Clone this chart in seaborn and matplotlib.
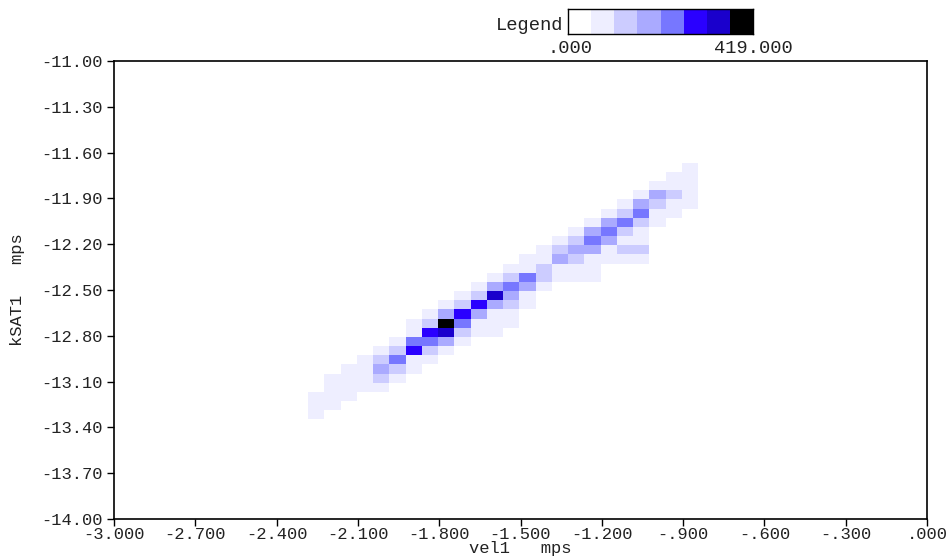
import numpy as np
import pandas as pd
import seaborn as sns
import matplotlib.pyplot as plt
from matplotlib.colors import ListedColormap

# Set aesthetics
sns.set_theme(style="ticks")
plt.rcParams['font.family'] = ['Liberation Mono', 'DejaVu Sans Mono']

# histogram grid: 0.06 x 0.06 cells
x_start = -2.284
y_start = -13.347
bin_size = 0.06
n_cols = 24
n_rows = 28

# per column (left to right): first non-empty row, then counts going up
col_first_row = [0, 1, 2, 3, 3, 4, 5, 6, 7, 8, 9, 9,
                 10, 12, 14, 15, 15, 15, 17, 17, 17, 21, 22, 23]
col_counts = [
    [25, 25, 25],
    [25, 25, 25, 25],
    [25, 25, 25, 25],
    [25, 25, 25, 25],
    [25, 90, 150, 90, 25],
    [25, 90, 210, 90, 25],
    [25, 25, 270, 210, 25, 25],
    [25, 90, 210, 270, 90, 25],
    [25, 150, 330, 419, 150, 25],
    [25, 90, 210, 270, 90, 25],
    [25, 25, 150, 270, 90, 25],
    [25, 25, 25, 150, 330, 150, 25],
    [25, 25, 90, 150, 210, 90, 25],
    [25, 25, 150, 210, 25, 25],
    [25, 90, 90, 25, 25],
    [25, 25, 150, 90, 25],
    [25, 25, 90, 150, 90, 25],
    [25, 25, 25, 150, 210, 150, 25],
    [25, 25, 150, 210, 150, 25],
    [25, 90, 25, 90, 210, 90, 25],
    [25, 90, 25, 25, 90, 210, 150, 25],
    [25, 25, 90, 150, 25],
    [25, 25, 90, 25, 25],
    [25, 25, 25, 25, 25],
]

count_max = 419.0
level_colors = ["#eeeeff", "#ccccff", "#aaaaff", "#7777ff",
                "#2a00ff", "#1a00cc", "#000000"]

x_ticks = [-3.0, -2.7, -2.4, -2.1, -1.8, -1.5, -1.2, -0.9, -0.6, -0.3, 0.0]
x_tick_labels = ["-3.000", "-2.700", "-2.400", "-2.100", "-1.800", "-1.500",
                 "-1.200", "-.900", "-.600", "-.300", ".000"]
y_ticks = [-11.0, -11.3, -11.6, -11.9, -12.2, -12.5, -12.8, -13.1, -13.4,
           -13.7, -14.0]
y_tick_labels = ["-11.00", "-11.30", "-11.60", "-11.90", "-12.20", "-12.50",
                 "-12.80", "-13.10", "-13.40", "-13.70", "-14.00"]

# long form table of cell centres + counts
rows = []
for c, (r0, counts) in enumerate(zip(col_first_row, col_counts)):
    for k, n in enumerate(counts):
        rows.append({
            "vel1": x_start + (c + 0.5) * bin_size,
            "kSAT1": y_start + (r0 + k + 0.5) * bin_size,
            "count": n,
        })
df = pd.DataFrame(rows)

x_edges = x_start + bin_size * np.arange(n_cols + 1)
y_edges = y_start + bin_size * np.arange(n_rows + 1)

fig = plt.figure(figsize=(9.49, 5.60), dpi=100)
ax = fig.add_axes([114 / 949, 41 / 560, 813 / 949, 458 / 560])

sns.histplot(data=df, x="vel1", y="kSAT1", weights="count",
             bins=[x_edges, y_edges], cmap=ListedColormap(level_colors),
             vmin=0, vmax=420, ax=ax)

ax.set_xlim(-3.0, 0.0)
ax.set_ylim(-14.0, -11.0)
ax.set_xticks(x_ticks)
ax.set_xticklabels(x_tick_labels)
ax.set_yticks(y_ticks)
ax.set_yticklabels(y_tick_labels)
ax.tick_params(direction="out", length=5, width=1, color="black",
               labelsize=12.3, labelcolor="#222222")
ax.tick_params(axis="x", pad=1)
ax.tick_params(axis="y", pad=3)
ax.grid(False)
for s in ax.spines.values():
    s.set_visible(True)
    s.set_color("black")
    s.set_linewidth(1.2)

ax.set_xlabel("vel1   mps", fontsize=12.3, color="#222222", labelpad=-1)
ax.set_ylabel("kSAT1   mps", fontsize=12.3, color="#222222", labelpad=12)

# legend strip at the top
leg_ax = fig.add_axes([568 / 949, 1 - 34 / 560, 185 / 949, 25 / 560])
sns.heatmap(np.arange(8).reshape(1, -1),
            cmap=ListedColormap(["#ffffff"] + level_colors),
            cbar=False, ax=leg_ax, xticklabels=False, yticklabels=False)
for s in leg_ax.spines.values():
    s.set_visible(True)
    s.set_color("black")
    s.set_linewidth(1)

fig.text(563 / 949, 1 - 30 / 560, "Legend", ha="right", va="baseline",
         fontsize=13.5, color="#222222")
fig.text(570 / 949, 1 - 53 / 560, ".000", ha="center", va="baseline",
         fontsize=13.5, color="#222222")
fig.text(753 / 949, 1 - 53 / 560, "%.3f" % count_max, ha="center",
         va="baseline", fontsize=13.5, color="#222222")

fig.savefig("out.png", dpi=100)
